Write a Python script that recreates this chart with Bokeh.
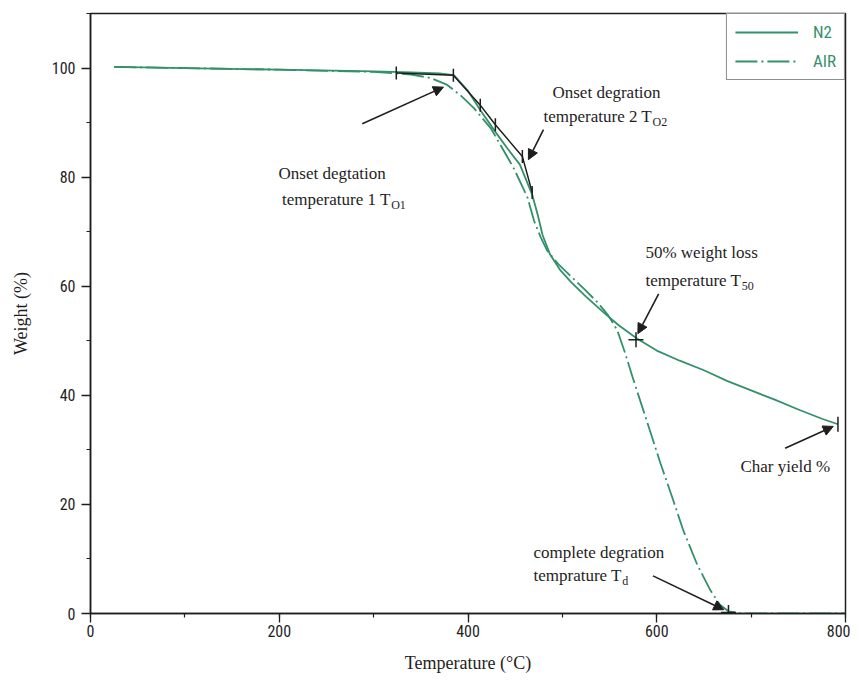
import math
from bokeh.plotting import figure
from bokeh.models import (Range1d, SingleIntervalTicker, Legend, LegendItem,
                          Arrow, NormalHead, ColumnDataSource)
from bokeh.core.properties import value
from bokeh.embed import file_html
from bokeh.resources import INLINE

# ---------------- data ----------------
n2_temp = [25, 100, 200, 300, 340, 370, 385, 400, 413, 429, 442, 455, 468, 474,
           479, 487, 498, 509, 525, 543, 560, 579, 600, 625, 650, 675, 700, 725,
           750, 775, 792]
n2_weight = [100.2, 100.0, 99.7, 99.4, 99.2, 99.0, 98.7, 95.8, 92.3, 88.3, 85.2,
             82.3, 76.8, 73.0, 69.4, 65.8, 62.9, 60.8, 58.1, 55.3, 52.8, 50.4,
             48.2, 46.3, 44.6, 42.6, 40.9, 39.2, 37.4, 35.7, 34.7]

air_temp = [25, 100, 200, 300, 340, 360, 378, 392, 406, 424, 448, 463, 470, 477,
            484, 496, 508, 523, 537, 548, 558, 566, 575, 584, 593, 604, 617, 628,
            643, 657, 667, 676, 690, 800]
air_weight = [100.2, 100.0, 99.7, 99.3, 98.8, 98.2, 96.9, 95.0, 92.7, 89.0, 81.8,
              76.3, 72.0, 69.0, 66.5, 64.0, 62.0, 59.5, 57.1, 54.8, 52.0, 48.0,
              43.0, 38.2, 33.4, 27.5, 21.0, 15.3, 8.9, 4.2, 1.6, 0.4, 0.0, 0.0]

# tangent construction (onset temperatures) on the N2 curve
onset_temp = [324, 384.5, 413, 429, 457.6, 468]
onset_weight = [99.1, 98.7, 93.2, 89.6, 83.8, 77.2]

# key points: T50, Td, char yield
key_temp = [578, 676, 792]
key_weight = [50.2, 0.2, 34.7]
key_marker = ["cross", "cross", "dash"]
key_angle = [0.0, 0.0, math.pi / 2]

# annotation texts
ann_text = ["Onset degtation", "temperature 1 T", "Onset degration",
            "temperature 2 T", "50% weight loss", "temperature T",
            "Char yield %", "complete degration", "temprature T"]
ann_sub = ["", "O1", "", "O2", "", "50", "", "", "d"]
ann_x = [199.2, 203.0, 489.5, 480.0, 588.0, 588.0, 688.7, 469.4, 469.4]
ann_y = [80.7, 75.9, 95.6, 91.1, 66.2, 61.0, 27.0, 11.1, 6.9]

arrow_x0 = [288, 480, 602, 736, 596]
arrow_y0 = [89.8, 88.7, 58.6, 30.3, 6.9]
arrow_x1 = [374, 464, 580, 787, 671]
arrow_y1 = [96.5, 83.2, 51.3, 34.3, 0.7]

x_ticks_interval = 200
y_ticks_interval = 20

# ---------------- styling ----------------
GREEN = "#33916a"
INK = "#1e1e1e"
SERIF = "Liberation Serif"
NARROW = "'Liberation Sans Narrow', 'Roboto Condensed', 'DejaVu Sans Condensed', sans-serif"
ANN_SIZE = 17
SUB_SIZE = 12

TIMES_W = {' ': 250, '%': 833, '(': 333, ')': 333, '0': 500, '1': 500, '2': 500,
           '5': 500, 'C': 667, 'O': 722, 'T': 611, 'a': 444, 'c': 444, 'd': 500,
           'e': 444, 'g': 500, 'h': 500, 'i': 278, 'l': 278, 'm': 778, 'n': 500,
           'o': 500, 'p': 500, 'r': 333, 's': 389, 't': 278, 'u': 500, 'w': 722,
           'y': 500}


def text_width(s, size):
    return sum(TIMES_W.get(c, 500) for c in s) * size / 1000.0


p = figure(width=850, height=675, x_range=Range1d(0, 800), y_range=Range1d(0, 110),
           output_backend="svg", toolbar_location=None,
           min_border_left=90, min_border_right=5, min_border_top=13,
           min_border_bottom=59)
p.background_fill_color = "white"
p.border_fill_color = "white"
p.grid.visible = False
p.outline_line_color = INK
p.outline_line_width = 1.5

p.xaxis.ticker = SingleIntervalTicker(interval=x_ticks_interval, num_minor_ticks=2)
p.yaxis.ticker = SingleIntervalTicker(interval=y_ticks_interval, num_minor_ticks=2)
for ax in (p.xaxis, p.yaxis):
    ax.axis_line_color = INK
    ax.axis_line_width = 1.5
    ax.major_tick_line_color = INK
    ax.major_tick_line_width = 1.3
    ax.minor_tick_line_color = INK
    ax.minor_tick_line_width = 1.2
    ax.major_tick_in = 0
    ax.major_tick_out = 9
    ax.minor_tick_in = 0
    ax.minor_tick_out = 4
    ax.major_label_text_font = NARROW
    ax.major_label_text_font_size = "16px"
    ax.major_label_text_color = INK
    ax.axis_label_text_font = SERIF
    ax.axis_label_text_font_size = "18px"
    ax.axis_label_text_font_style = "normal"
    ax.axis_label_text_color = INK
p.xaxis.axis_label = "Temperature (°C)"
p.yaxis.axis_label = "Weight (%)"
p.xaxis.major_label_standoff = 2
p.xaxis.axis_label_standoff = 13
p.yaxis.major_label_standoff = 6
p.yaxis.axis_label_standoff = 18

# curves
r_n2 = p.line(n2_temp, n2_weight, line_color=GREEN, line_width=1.8)
r_air = p.line(air_temp, air_weight, line_color=GREEN, line_width=1.8,
               line_dash="22 4 2 4")

# construction lines & markers
p.line(onset_temp, onset_weight, line_color=INK, line_width=1.5)
p.scatter(onset_temp, onset_weight, marker="dash", angle=math.pi / 2, size=13,
          line_color=INK, line_width=1.5)
key_src = ColumnDataSource(dict(x=key_temp, y=key_weight, m=key_marker, a=key_angle))
p.scatter("x", "y", marker="m", angle="a", size=15, line_color=INK, line_width=1.5,
          source=key_src)

# arrows
arrow_src = ColumnDataSource(dict(x0=arrow_x0, y0=arrow_y0, x1=arrow_x1, y1=arrow_y1))
p.add_layout(Arrow(x_start="x0", y_start="y0", x_end="x1", y_end="y1",
                   source=arrow_src, line_color=INK, line_width=1.6,
                   end=NormalHead(size=10, fill_color=INK, line_color=INK)))

# annotation texts
p.text(x=ann_x, y=ann_y, text=ann_text, text_font=value(SERIF),
       text_font_size=f"{ANN_SIZE}px", text_color=INK, text_baseline="middle",
       text_align="left")
sub_idx = [i for i, s in enumerate(ann_sub) if s]
sub_src = ColumnDataSource(dict(
    x=[ann_x[i] for i in sub_idx],
    y=[ann_y[i] for i in sub_idx],
    t=[ann_sub[i] for i in sub_idx],
    dx=[text_width(ann_text[i], ANN_SIZE) + 0.5 for i in sub_idx]))
p.text(x="x", y="y", text="t", x_offset="dx", y_offset=5, source=sub_src,
       text_font=value(SERIF), text_font_size=f"{SUB_SIZE}px", text_color=INK,
       text_baseline="middle", text_align="left")

# legend
legend = Legend(items=[LegendItem(label="N2", renderers=[r_n2]),
                       LegendItem(label="AIR", renderers=[r_air])],
                location="top_right", margin=0, padding=8, spacing=9,
                glyph_width=63, glyph_height=20, label_standoff=15,
                border_line_color=INK, border_line_width=1.5,
                background_fill_color="white", background_fill_alpha=1.0,
                label_text_font=NARROW, label_text_font_size="17px",
                label_text_color=GREEN)
p.add_layout(legend)

open("out.html", "w").write(file_html(p, INLINE))
